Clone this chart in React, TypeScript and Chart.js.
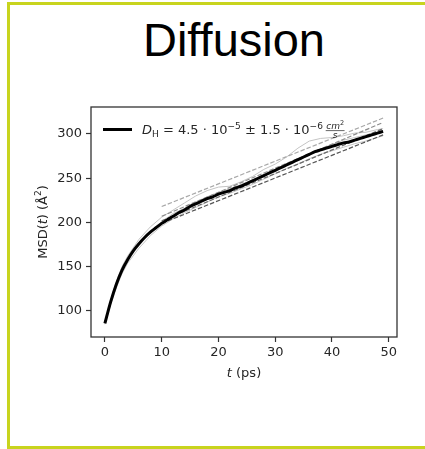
import React, { useEffect, useRef } from "react";
import { Chart, registerables } from "chart.js";

Chart.register(...registerables);

// ---------- data ----------
const meanT = [0,1,2,3,4,5,6,7,8,9,10,11,12,13,14,15,16,17,18,19,20,21,22,23,24,25,26,27,28,29,30,31,32,33,34,35,36,37,38,39,40,41,42,43,44,45,46,47,48,49];
const meanMSD = [86,110,130,146,158,168,176,183,189,194,199,203,207,211,214,218,221,224,227,229,232,234,236,239,241,244,247,250,253,256,259,262,265,268,271,274,277,280,282,284,286,288,290,291,293,295,297,299,301,303];

const runT = [0,1,2,3,4,6,8,10,12,14,16,18,20,22,24,26,28,30,32,34,36,38,40,42,44,46,48,49];
const runA = [87,112,133,150,162,181,195,206,214,222,230,236,240,241,246,252,260,266,274,284,292,295,296,298,301,302,305,306];
const runB = [85,107,126,142,154,171,185,196,204,211,217,223,229,233,238,243,249,255,261,266,272,277,281,285,289,292,296,298];
const runC = [86,109,129,145,158,176,190,201,210,216,223,229,234,238,243,248,254,260,266,270,276,283,288,293,296,299,302,304];

const fitT = [10, 49];
const fit1 = [218, 318];
const fit2 = [207, 313];
const fit3 = [202, 306];
const fit4 = [199, 299];

const xTicks = [0, 10, 20, 30, 40, 50];
const yTicks = [100, 150, 200, 250, 300];

const titleText = "Diffusion";

// ---------- helpers ----------
const pts = (xs: number[], ys: number[]) => xs.map((x, i) => ({ x, y: ys[i] }));

type Seg = { t: string; font: string; dy?: number };
const F = '13px "DejaVu Sans"';
const FI = 'italic 13px "DejaVu Sans"';
const FS = '9px "DejaVu Sans"';
const FSI = 'italic 9px "DejaVu Sans"';
const FSS = '6.5px "DejaVu Sans"';

function richWidth(ctx: CanvasRenderingContext2D, segs: Seg[]) {
  let w = 0;
  for (const s of segs) {
    ctx.font = s.font;
    w += ctx.measureText(s.t).width;
  }
  return w;
}
function drawRich(ctx: CanvasRenderingContext2D, segs: Seg[], x: number, y: number) {
  let cx = x;
  for (const s of segs) {
    ctx.font = s.font;
    ctx.fillText(s.t, cx, y + (s.dy || 0));
    cx += ctx.measureText(s.t).width;
  }
  return cx;
}

const decorPlugin = {
  id: "decor",
  afterDatasetsDraw(chart: any) {
    const ctx: CanvasRenderingContext2D = chart.ctx;
    const a = chart.chartArea;
    ctx.save();
    // axes frame
    ctx.strokeStyle = "#333";
    ctx.lineWidth = 1.3;
    ctx.strokeRect(a.left, a.top, a.right - a.left, a.bottom - a.top);

    ctx.fillStyle = "#262626";
    ctx.textBaseline = "alphabetic";
    ctx.textAlign = "left";

    // legend
    const ly = a.top + 22.5;
    ctx.strokeStyle = "#000";
    ctx.lineWidth = 3;
    ctx.beginPath();
    ctx.moveTo(a.left + 12, ly);
    ctx.lineTo(a.left + 41, ly);
    ctx.stroke();
    const base = ly + 4.6;
    const legSegs: Seg[] = [
      { t: "D", font: FI },
      { t: "H", font: FS, dy: 3 },
      { t: " = 4.5 · 10", font: F },
      { t: "−5", font: FS, dy: -5.5 },
      { t: " ± 1.5 · 10", font: F },
      { t: "−6", font: FS, dy: -5.5 },
      { t: " ", font: FS },
    ];
    const endX = drawRich(ctx, legSegs, a.left + 51, base);
    const num: Seg[] = [
      { t: "cm", font: FSI },
      { t: "2", font: FSS, dy: -3.5 },
    ];
    const nw = richWidth(ctx, num);
    ctx.font = FSI;
    const dw = ctx.measureText("s").width;
    const fw = Math.max(nw, dw) + 1;
    const barY = base - 3.5;
    ctx.strokeStyle = "#262626";
    ctx.lineWidth = 0.7;
    ctx.beginPath();
    ctx.moveTo(endX, barY);
    ctx.lineTo(endX + fw, barY);
    ctx.stroke();
    drawRich(ctx, num, endX + (fw - nw) / 2, barY - 2);
    ctx.font = FSI;
    ctx.fillText("s", endX + (fw - dw) / 2, barY + 7.5);

    // x axis title
    const xs: Seg[] = [
      { t: "t", font: FI },
      { t: " (ps)", font: F },
    ];
    const xw = richWidth(ctx, xs);
    drawRich(ctx, xs, (a.left + a.right) / 2 - xw / 2, 377);

    // y axis title
    const ys: Seg[] = [
      { t: "MSD(", font: F },
      { t: "t", font: FI },
      { t: ") (Å", font: F },
      { t: "2", font: FS, dy: -6 },
      { t: ")", font: F },
    ];
    const yw = richWidth(ctx, ys);
    ctx.translate(46.5, (a.top + a.bottom) / 2);
    ctx.rotate(-Math.PI / 2);
    drawRich(ctx, ys, -yw / 2, 0);
    ctx.restore();
  },
};

export default function App() {
  const ref = useRef<HTMLCanvasElement | null>(null);

  useEffect(() => {
    if (!ref.current) return;
    const grayRun = { borderColor: "#c4c4c4", borderWidth: 1, pointRadius: 0, tension: 0, fill: false };
    const dash = (c: string) => ({ borderColor: c, borderWidth: 1.2, borderDash: [4.5, 2], pointRadius: 0, fill: false });
    const chart = new Chart(ref.current, {
      type: "line",
      data: {
        datasets: [
          { label: "mean", data: pts(meanT, meanMSD), borderColor: "#000", borderWidth: 3, pointRadius: 0, tension: 0.3, fill: false },
          { label: "fit1", data: pts(fitT, fit1), ...dash("#a8a8a8") },
          { label: "fit2", data: pts(fitT, fit2), ...dash("#8c8c8c") },
          { label: "fit3", data: pts(fitT, fit3), ...dash("#6a6a6a") },
          { label: "fit4", data: pts(fitT, fit4), ...dash("#555555") },
          { label: "runA", data: pts(runT, runA), ...grayRun },
          { label: "runB", data: pts(runT, runB), ...grayRun },
          { label: "runC", data: pts(runT, runC), ...grayRun },
        ] as any,
      },
      options: {
        animation: false,
        responsive: false,
        devicePixelRatio: 1,
        layout: { padding: { left: 0, right: 28, top: 107, bottom: 0 } },
        plugins: { legend: { display: false }, tooltip: { enabled: false }, title: { display: false } },
        scales: {
          x: {
            type: "linear",
            min: -2.45,
            max: 51.45,
            afterFit: (s: any) => { s.height = 112; },
            afterBuildTicks: (s: any) => { s.ticks = xTicks.map((v) => ({ value: v })); },
            grid: { display: true, drawOnChartArea: false, drawTicks: true, tickLength: 5, tickColor: "#333", tickWidth: 1.2 },
            border: { display: false },
            ticks: { color: "#262626", font: { family: "DejaVu Sans", size: 13 }, padding: 3, maxRotation: 0, autoSkip: false, callback: (v: any) => String(v) },
          },
          y: {
            type: "linear",
            min: 70.6,
            max: 330.5,
            afterFit: (s: any) => { s.width = 91; },
            afterBuildTicks: (s: any) => { s.ticks = yTicks.map((v) => ({ value: v })); },
            grid: { display: true, drawOnChartArea: false, drawTicks: true, tickLength: 5, tickColor: "#333", tickWidth: 1.2 },
            border: { display: false },
            ticks: { color: "#262626", font: { family: "DejaVu Sans", size: 13 }, padding: 4, autoSkip: false, callback: (v: any) => String(v) },
          },
        },
      } as any,
      plugins: [decorPlugin],
    });
    return () => chart.destroy();
  }, []);

  return (
    <div style={{ position: "fixed", left: 0, top: 0, width: 425, height: 449, overflow: "hidden", background: "#fff" }}>
      <div
        style={{
          position: "absolute",
          left: 7,
          top: 2,
          width: 418,
          height: 447,
          boxSizing: "border-box",
          borderTop: "3px solid #c8d41e",
          borderLeft: "3px solid #c8d41e",
          borderBottom: "3px solid #c8d41e",
        }}
      />
      <div
        style={{
          position: "absolute",
          left: 84,
          top: 16,
          width: 300,
          textAlign: "center",
          fontFamily: '"Liberation Sans", Arial, sans-serif',
          fontSize: 47,
          lineHeight: "47px",
          color: "#000",
        }}
      >
        {titleText}
      </div>
      <canvas ref={ref} width={425} height={449} style={{ position: "absolute", left: 0, top: 0 }} />
    </div>
  );
}
